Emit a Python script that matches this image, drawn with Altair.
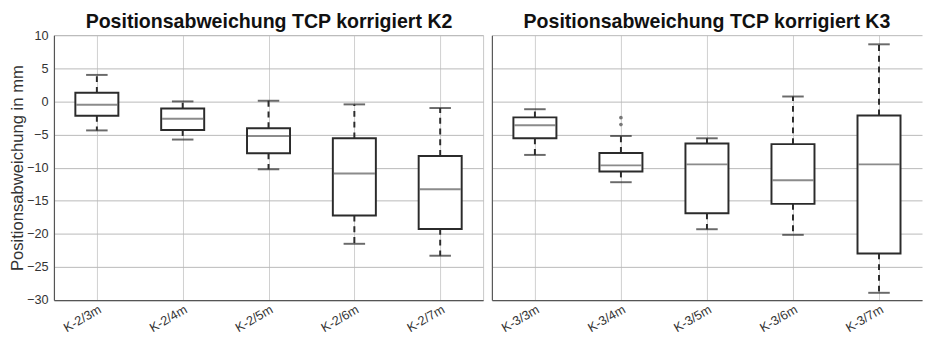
import altair as alt
import pandas as pd

# ---- data ----
cats_k2 = ["K-2/3m", "K-2/4m", "K-2/5m", "K-2/6m", "K-2/7m"]
upper_k2 = [4.0, 0.0, 0.1, -0.45, -1.0]
q3_k2 = [1.3, -1.08, -4.04, -5.57, -8.23]
med_k2 = [-0.49, -2.61, -5.22, -10.89, -13.25]
q1_k2 = [-2.17, -4.33, -7.83, -17.24, -19.26]
lower_k2 = [-4.38, -5.76, -10.25, -21.5, -23.3]

cats_k3 = ["K-3/3m", "K-3/4m", "K-3/5m", "K-3/6m", "K-3/7m"]
upper_k3 = [-1.18, -5.22, -5.57, 0.74, 8.62]
q3_k3 = [-2.41, -7.78, -6.35, -6.45, -2.12]
med_k3 = [-3.6, -9.66, -9.51, -11.92, -9.51]
q1_k3 = [-5.57, -10.59, -16.9, -15.47, -22.96]
lower_k3 = [-8.08, -12.2, -19.3, -20.15, -28.9]

outlier_cats_k3 = ["K-3/4m", "K-3/4m"]
outlier_vals_k3 = [-2.46, -3.5]

titles = ["Positionsabweichung TCP korrigiert K2", "Positionsabweichung TCP korrigiert K3"]
y_ticks = [10, 5, 0, -5, -10, -15, -20, -25, -30]

FONT = "Liberation Sans"
DARK = "#2b2b2b"
MED = "#5a5a5a"
GRID_Y = "#b8b8b8"
GRID_X = "#cfcfcf"
H = 271


def panel(cats, up, q3, med, q1, lo, title, width, xrange, show_y, title_x, oc=None, ov=None):
    df = pd.DataFrame({"cat": cats, "up": up, "q3": q3, "med": med, "q1": q1, "lo": lo})
    if xrange is not None:
        xscale = alt.Scale(type="point", padding=0.5, domain=cats, range=xrange)
    else:
        xscale = alt.Scale(type="point", padding=0.5, domain=cats)
    yscale = alt.Scale(domain=[-30, 10], nice=False, zero=False)
    xaxis = alt.Axis(
        title=None, labelAngle=-30, labelAlign="right", labelBaseline="top",
        labelFontSize=13, labelFont=FONT, labelColor="#333333", labelPadding=3,
        ticks=False, grid=True, gridColor=GRID_X, gridWidth=1,
        domainColor="#555555", domainWidth=1.2,
    )
    if show_y:
        yaxis = alt.Axis(
            title="Positionsabweichung in mm", values=y_ticks, grid=True, gridColor=GRID_Y,
            labelFontSize=13, labelFont=FONT, labelColor="#333333", labelPadding=6,
            titleFontSize=17, titleFont=FONT, titleFontWeight="normal", titleColor="#333333",
            titlePadding=2, ticks=False, domainColor="#555555", domainWidth=1.2,
            minExtent=26, maxExtent=26,
        )
    else:
        yaxis = alt.Axis(
            title=None, values=y_ticks, grid=True, gridColor=GRID_Y, labels=False,
            ticks=False, domainColor="#555555", domainWidth=1.2,
            minExtent=0, maxExtent=0,
        )

    def X():
        return alt.X("cat:N", scale=xscale, sort=cats, axis=xaxis)

    def Y(field):
        return alt.Y(field, scale=yscale, axis=yaxis)

    base = alt.Chart(df)
    whisk_up = base.mark_rule(color=DARK, strokeWidth=2, strokeDash=[6, 5]).encode(
        x=X(), y=Y("q3:Q"), y2="up:Q")
    whisk_lo = base.mark_rule(color=DARK, strokeWidth=2, strokeDash=[6, 5]).encode(
        x=X(), y=Y("q1:Q"), y2="lo:Q")
    cap_up = base.mark_tick(color=DARK, size=22, thickness=2, orient="horizontal").encode(
        x=X(), y=Y("up:Q"))
    cap_lo = base.mark_tick(color=DARK, size=22, thickness=2, orient="horizontal").encode(
        x=X(), y=Y("lo:Q"))
    box = base.mark_bar(size=44, fill="white", stroke=DARK, strokeWidth=2).encode(
        x=X(), y=Y("q1:Q"), y2="q3:Q")
    median = base.mark_tick(color=MED, size=42, thickness=2, orient="horizontal").encode(
        x=X(), y=Y("med:Q"))
    ttl = alt.Chart(pd.DataFrame({"t": [title]})).mark_text(
        font=FONT, fontSize=20, fontWeight="bold", color="#111111",
        align="center", baseline="alphabetic",
    ).encode(text="t:N", x=alt.value(title_x), y=alt.value(-7))
    layers = [whisk_up, whisk_lo, cap_up, cap_lo, box, median, ttl]
    if oc is not None:
        odf = pd.DataFrame({"cat": oc, "v": ov})
        pts = alt.Chart(odf).mark_point(filled=True, color="#777777", size=14, opacity=1).encode(
            x=X(), y=Y("v:Q"))
        layers.append(pts)
    return alt.layer(*layers).properties(width=width, height=H)


left = panel(cats_k2, upper_k2, q3_k2, med_k2, q1_k2, lower_k2,
             titles[0], 439, None, True, 220).properties(
    view=alt.ViewBackground(stroke="#c8c8c8", strokeWidth=1))
right = panel(cats_k3, upper_k3, q3_k3, med_k3, q1_k3, lower_k3,
              titles[1], 431, [0, 440], False, 220,
              outlier_cats_k3, outlier_vals_k3).properties(
    view=alt.ViewBackground(stroke="transparent"))

chart = alt.hconcat(left, right, spacing=7).properties(
    padding={"left": 0, "top": 0, "right": 0, "bottom": 0}
).configure(background="white")

chart.save("out.html", embed_options={"renderer": "svg", "actions": False})
